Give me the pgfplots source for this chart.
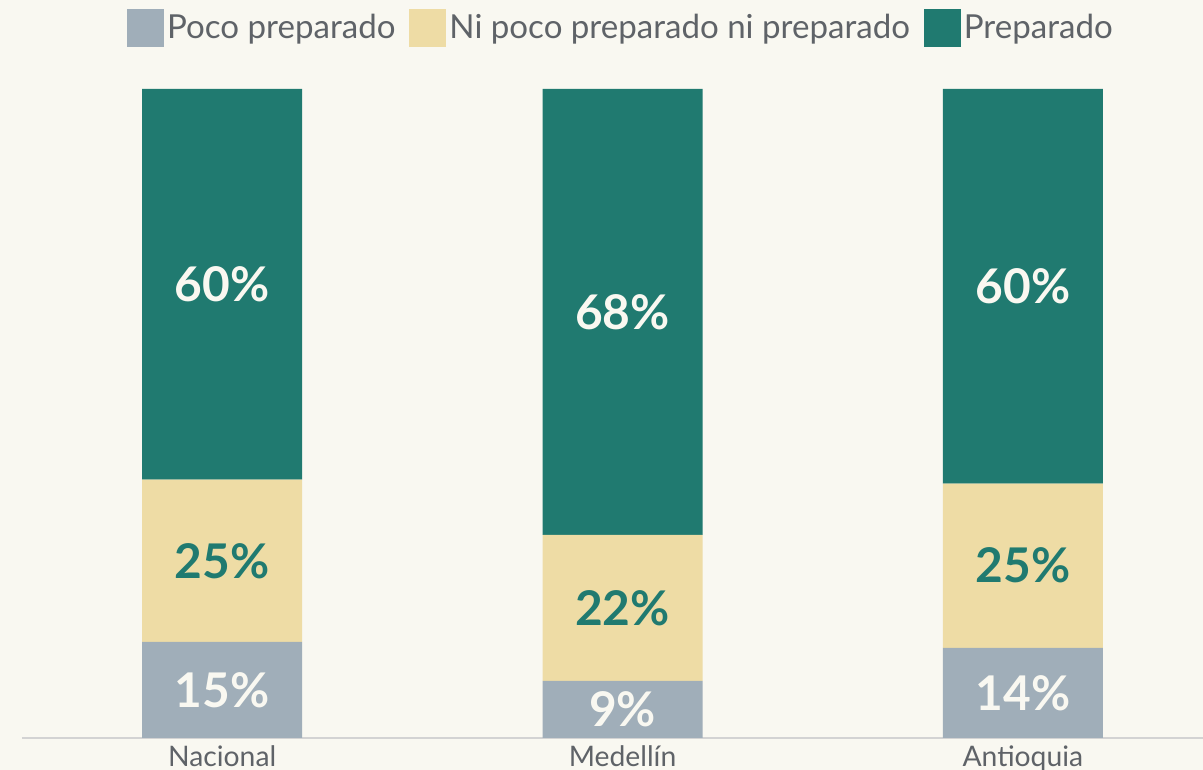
\documentclass[border=0pt]{standalone}
\usepackage{fontspec}
\setmainfont{Lato}
\usepackage{pgfplots}
\usepackage{pgfplotstable}
\pgfplotsset{compat=1.18}
\definecolor{bg}{HTML}{F9F8F1}
\definecolor{poco}{HTML}{A0AEB9}
\definecolor{ni}{HTML}{EEDCA5}
\definecolor{prep}{HTML}{207A70}
\definecolor{txt}{HTML}{5F6368}
\definecolor{base}{HTML}{D3D3D3}

\pgfplotstableread{
x h lab
0 14.8 15
1 8.8 9
2 13.9 14
}\poco
\pgfplotstableread{
x h lab
0 25.0 25
1 22.5 22
2 25.3 25
}\ni
\pgfplotstableread{
x h lab
0 60.2 60
1 68.7 68
2 60.8 60
}\prep

% stacked bars already put the labels mid-segment here
\pgfplotsset{seglabels/.style={
  point meta=explicit,
  nodes near coords={\pgfmathprintnumber[fixed,precision=0,assume math mode=true]{\pgfplotspointmeta}\%},
  nodes near coords style={anchor=center, font=\fontsize{24}{28}\selectfont\bfseries,
    text=#1},
}}

\begin{document}
\begin{tikzpicture}
\fill[bg, use as bounding box] (-11bp,-16bp) rectangle (590.5bp,369bp);
\begin{axis}[
  scale only axis,
  width=590.5bp, height=324.5bp,
  xmin=-0.5, xmax=2.45,
  ymin=0, ymax=100,
  ybar stacked,
  bar width=80bp,
  axis y line=none,
  axis x line*=bottom,
  x axis line style={color=base, line width=0.8bp, -},
  xtick={0,1,2},
  xticklabels={Nacional, Medellín, Antioquia},
  major tick length=0pt,
  xticklabel style={font=\fontsize{14.2}{16}\selectfont, text=txt, yshift=-0.5bp},
  legend columns=3,
  legend style={draw=none, fill=none, at={(rel axis cs:0.5076,1.094)}, anchor=center,
    font=\fontsize{16.6}{19}\selectfont, text=txt,
    /tikz/every even column/.append style={column sep=5.5bp},
    /tikz/every node/.append style={inner sep=1.5bp}},
  legend image code/.code={\fill[#1] (0bp,-9.5bp) rectangle (18.5bp,9.5bp);},
]
\addplot[fill=poco, draw=none, seglabels=bg]
  table[x=x, y=h, meta=lab] {\poco};
\addlegendentry{Poco preparado}
\addplot[fill=ni, draw=none, seglabels=prep]
  table[x=x, y=h, meta=lab] {\ni};
\addlegendentry{Ni poco preparado ni preparado}
\addplot[fill=prep, draw=none, seglabels=bg]
  table[x=x, y=h, meta=lab] {\prep};
\addlegendentry{Preparado}
\end{axis}
\end{tikzpicture}
\end{document}
